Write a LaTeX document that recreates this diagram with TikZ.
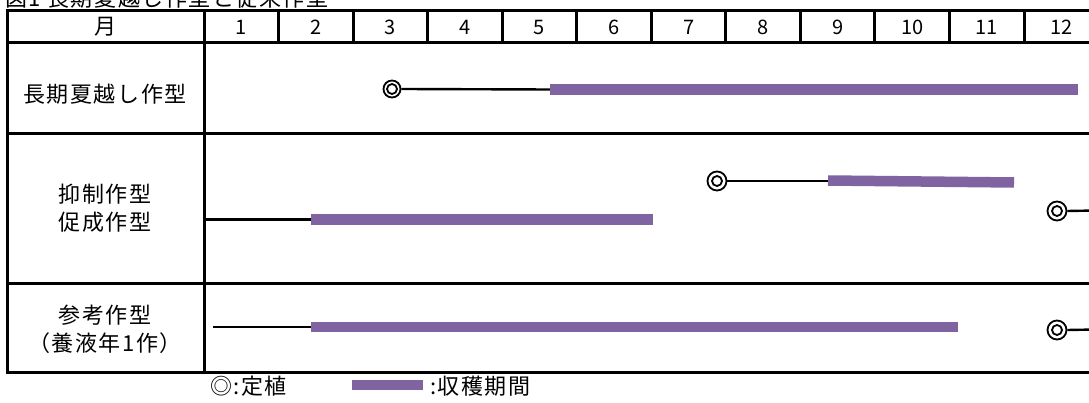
\documentclass[tikz,border=0pt]{standalone}
\usepackage{fontspec}
\setmainfont{Noto Sans CJK JP}
\newfontfamily\spcjk[LetterSpace=7]{Noto Sans CJK JP}
\definecolor{barpurple}{RGB}{128,100,162}
\begin{document}
\begin{tikzpicture}[x=1pt,y=-1pt,
  grid/.style={line width=3pt,black},
  lbl/.style={font=\spcjk\fontsize{22}{28}\selectfont,align=center,inner sep=0pt},
  num/.style={font=\fontsize{20}{22}\selectfont,inner sep=0pt},
  harvest/.style={line width=10.5pt,barpurple},
  lead/.style={line width=2.4pt,black},
  plantmark/.style={circle,draw,line width=1.8pt,minimum size=19pt,inner sep=0pt,
     path picture={\draw[line width=1.8pt] (path picture bounding box.center) circle (5pt);}}]
\useasboundingbox (0,0) rectangle (1089,403);
\clip (0,0) rectangle (1089,403);
\fill[white] (0,0) rectangle (1089,403);
% title (cropped at the top edge, as in the reference)
\node[lbl,anchor=base west] (title) at (5,7) {図1 長期夏越し作型と従来作型};
% table lines
\foreach \y in {10.5,43,134,283,372} \draw[grid] (7,\y) -- (1095,\y);
\draw[grid] (7,9) -- (7,373.5);
\draw[grid] (204,9) -- (204,373.5);
\foreach \k in {1,...,11} \draw[grid] ({204+74.55*\k},10.5) -- ({204+74.55*\k},43);
% header
\node[lbl] (hm) at (105,27) {月};
\foreach \k in {1,...,12} \node[num] (h\k) at ({204+74.55*(\k-0.5)},27.5) {\k};
% row labels
\node[lbl] (r1) at (105,94) {長期夏越し作型};
\node[lbl] (r2) at (105,208) {抑制作型\\促成作型};
\node[lbl] (r3) at (105,329) {参考作型\\（養液年1作）};
% row 1
\node[plantmark,minimum size=17pt] (p1) at (392,89) {};
\coordinate (b1s) at (550,89.5);
\coordinate (b1e) at (1078,89.5);
\draw[lead] (p1.east) -- (b1s);
\draw[harvest] (b1s) -- (b1e);
% row 2 upper
\node[plantmark] (p2) at (717,181) {};
\coordinate (b2s) at (828,180.5);
\coordinate (b2e) at (1014,182.5);
\draw[lead] (p2.east) -- (828,181);
\draw[harvest] (b2s) -- (b2e);
% row 2 right
\node[plantmark] (p3) at (1057,211) {};
\coordinate (r2end) at (1095,210.5);
\draw[lead] (p3.east) -- (r2end);
% row 2 lower
\coordinate (l2s) at (204,219.5);
\coordinate (b3s) at (311,219.5);
\coordinate (b3e) at (653,219.5);
\draw[lead] (l2s) -- (b3s);
\draw[harvest] (b3s) -- (b3e);
% row 3
\coordinate (l3s) at (213,327);
\coordinate (b4s) at (311,327);
\coordinate (b4e) at (958,327);
\draw[lead] (l3s) -- (b4s);
\draw[harvest] (b4s) -- (b4e);
\node[plantmark] (p4) at (1057,330) {};
\coordinate (r3end) at (1095,329.5);
\draw[lead] (p4.east) -- (r3end);
% legend
\node[lbl,anchor=west] (leg1) at (210,386) {◎:定植};
\coordinate (lgs) at (352,385);
\coordinate (lge) at (423,385);
\draw[harvest,line width=10pt] (lgs) -- (lge);
\node[lbl,anchor=west] (leg2) at (430,386) {:収穫期間};
\end{tikzpicture}
\end{document}
